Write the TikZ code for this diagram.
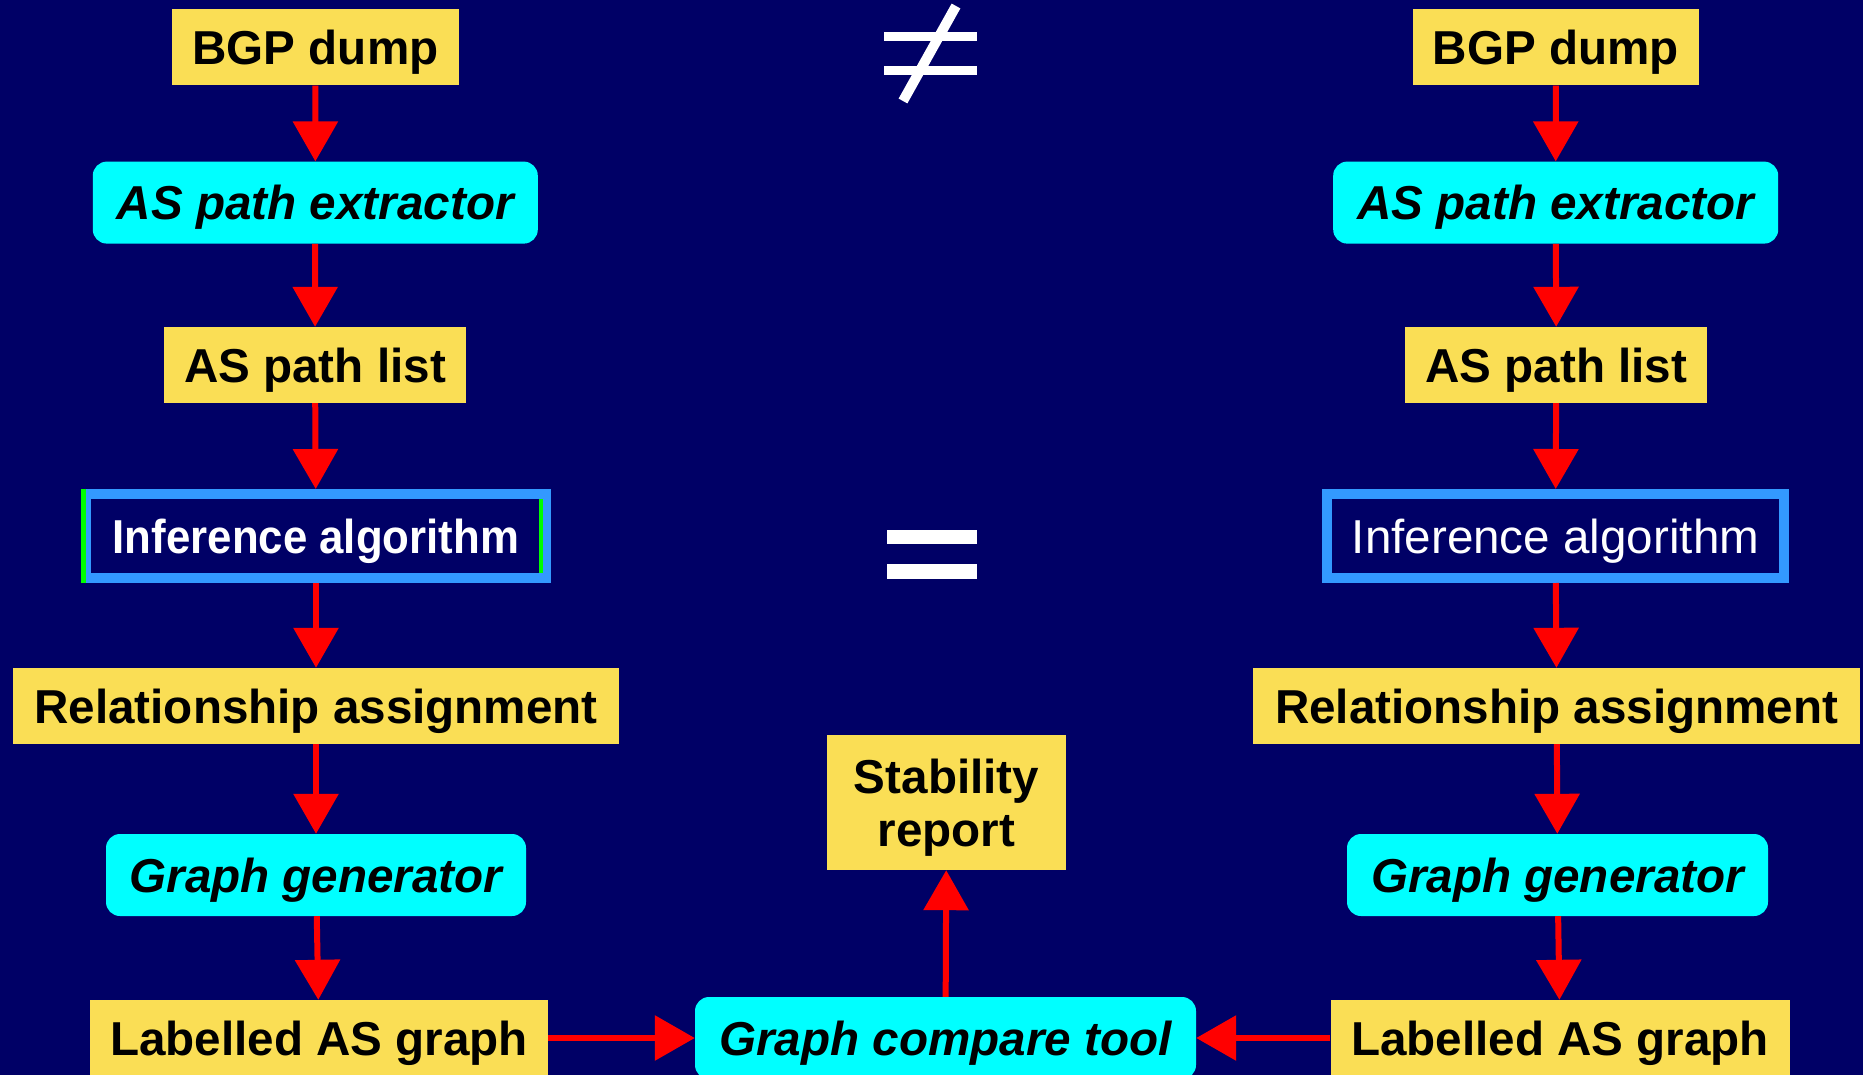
\documentclass[tikz,border=0pt]{standalone}
\usepackage{fontspec}
\setmainfont{Liberation Sans}
\usetikzlibrary{arrows.meta}
\definecolor{slidebg}{RGB}{0,0,102}
\definecolor{boxyellow}{RGB}{250,222,85}
\definecolor{toolcyan}{RGB}{0,255,255}
\definecolor{algoblue}{RGB}{51,153,255}
\definecolor{arrowred}{RGB}{255,0,0}
\definecolor{edgegreen}{RGB}{0,255,0}
\newcommand{\slidefont}{\fontsize{47.6}{53}\selectfont}

\begin{document}
\begin{tikzpicture}[x=1pt,y=-1pt,
    box/.style={rectangle,inner sep=0pt,text centered,text depth=0pt,font=\slidefont\bfseries},
    data/.style={box,fill=boxyellow,text=black,minimum height=76pt},
    tool/.style={box,fill=toolcyan,text=black,rounded corners=14pt,minimum height=82pt,font=\slidefont\bfseries\itshape},
    algo/.style={box,draw=algoblue,line width=10pt,fill=slidebg,text=white,minimum height=84pt,font=\slidefont},
    flow/.style={-{Triangle[length=40pt,width=44pt]},draw=arrowred,line width=6pt}]
    \fill[slidebg] (0,0) rectangle (1863,1075);
    \useasboundingbox (0,0) rectangle (1863,1075);

    % left chain
    \node[data,minimum width=287pt] (bgpL)  at (315.5,47.5)  {BGP dump};
    \node[tool,minimum width=445pt] (extL)  at (315.3,202.6) {AS path extractor};
    \node[data,minimum width=302pt] (listL) at (315,365)     {AS path list};
    \node[algo,minimum width=460pt] (infL)  at (316,536)     {\scalebox{0.92}[1]{\bfseries Inference algorithm}};
    \node[data,minimum width=606pt] (relL)  at (316,706)     {Relationship assignment};
    \node[tool,minimum width=420pt] (genL)  at (316,875)     {Graph generator};
    \node[data,minimum width=458pt] (labL)  at (319,1038)    {Labelled AS graph};

    % right chain
    \node[data,minimum width=286pt] (bgpR)  at (1555.8,47.5)  {BGP dump};
    \node[tool,minimum width=445pt] (extR)  at (1555.7,202.6) {AS path extractor};
    \node[data,minimum width=302pt] (listR) at (1556.3,365)   {AS path list};
    \node[algo,minimum width=457pt] (infR)  at (1555.5,536)   {Inference algorithm};
    \node[data,minimum width=607pt] (relR)  at (1556.7,706)   {Relationship assignment};
    \node[tool,minimum width=421pt] (genR)  at (1557.5,875)   {Graph generator};
    \node[data,minimum width=459pt] (labR)  at (1560,1038)    {Labelled AS graph};

    % middle
    \node[tool,minimum width=501pt] (cmp)  at (945.5,1038) {Graph compare tool};
    \node[data,minimum width=239pt,minimum height=135pt,align=center] (stab) at (946.5,802.5) {Stability\\report};

    \draw[line width=5pt,draw=edgegreen] ([xshift=2.5pt]infL.south west) -- ([xshift=2.5pt]infL.north west);
    \draw[line width=4pt,draw=edgegreen] ([xshift=-10pt,yshift=-10pt]infL.north east) -- ([xshift=-10pt,yshift=10pt]infL.south east);

    \draw[flow] (bgpL)--(extL);
    \draw[flow] (extL)--(listL);
    \draw[flow] (listL)--(infL);
    \draw[flow] (infL)--(relL);
    \draw[flow] (relL)--(genL);
    \draw[flow] (genL)--(labL);
    \draw[flow] (bgpR)--(extR);
    \draw[flow] (extR)--(listR);
    \draw[flow] (listR)--(infR);
    \draw[flow] (infR)--(relR);
    \draw[flow] (relR)--(genR);
    \draw[flow] (genR)--(labR);
    \draw[flow] (labL)--(cmp);
    \draw[flow] (labR)--(cmp);
    \draw[flow] (cmp)--(stab);

    % not equal / equal signs
    \fill[white] (884,32) rectangle (977,41);
    \fill[white] (884,66) rectangle (977,75);
    \draw[white,line width=10pt] (956,6) -- (903,101);
    \fill[white] (887,530) rectangle (977,544);
    \fill[white] (887,564) rectangle (977,579);
\end{tikzpicture}
\end{document}
